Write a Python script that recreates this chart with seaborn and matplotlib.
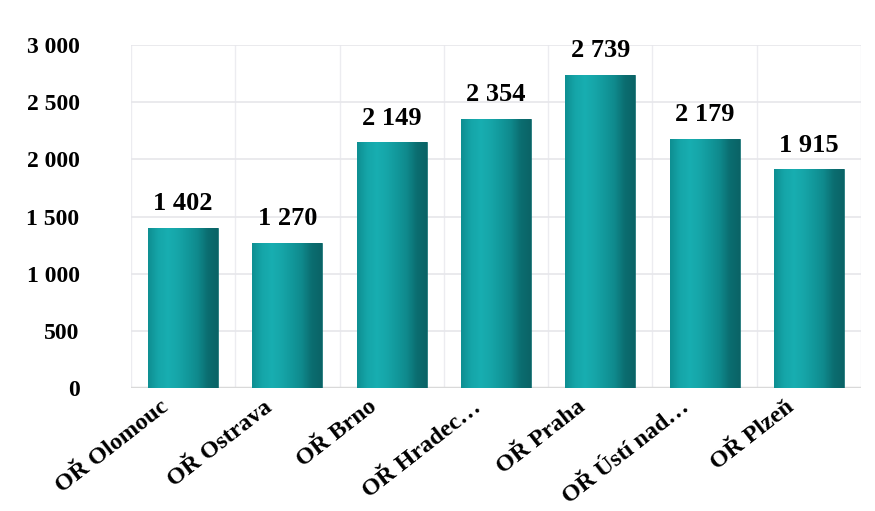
import matplotlib
matplotlib.use("Agg")
import matplotlib.pyplot as plt
import matplotlib.transforms as mtransforms
from matplotlib.colors import LinearSegmentedColormap
import seaborn as sns
import pandas as pd
import numpy as np

categories = ["OŘ Olomouc", "OŘ Ostrava", "OŘ Brno", "OŘ Hradec…", "OŘ Praha", "OŘ Ústí nad…", "OŘ Plzeň"]
values = [1402, 1270, 2149, 2354, 2739, 2179, 1915]
y_ticks = [0, 500, 1000, 1500, 2000, 2500, 3000]

def fmt(v):
    return f"{v:,}".replace(",", " ")

sns.set_theme(style="white")
plt.rcParams["font.family"] = ["Liberation Serif", "DejaVu Serif"]

df = pd.DataFrame({"region": categories, "count": values})

fig = plt.figure(figsize=(8.75, 5.11), dpi=100)
ax = fig.add_axes([131/875, 1 - 388/511, (861 - 131)/875, (388 - 45)/511])

sns.barplot(data=df, x="region", y="count", color="#129A9C", width=0.67,
            edgecolor="#0B6B6E", linewidth=0.6, saturation=1, ax=ax, zorder=3)

# cylinder-like shading on each bar
cmap = LinearSegmentedColormap.from_list(
    "teal", ["#0E8E91", "#15A5A8", "#18AEB1", "#16A5A8", "#12989B", "#0F898C", "#0B6D70", "#0A6366"])
grad = np.linspace(0, 1, 256).reshape(1, -1)
for p in ax.patches:
    x0, y0 = p.get_x(), p.get_y()
    w, h = p.get_width(), p.get_height()
    im = ax.imshow(grad, cmap=cmap, aspect="auto", extent=(x0, x0 + w, y0, y0 + h),
                   zorder=3.5, interpolation="bicubic")
    im.set_clip_path(p)
    p.set_facecolor("none")
ax.set_ylim(0, 3000)
ax.set_xlim(-0.5, len(categories) - 0.5)

ax.set_yticks(y_ticks)
ax.set_yticklabels([fmt(t) for t in y_ticks], fontsize=17, fontweight="bold", color="black")
ax.set_xticks(np.arange(len(categories)), minor=False)
ax.set_xticks(np.arange(-0.5, len(categories), 0.5), minor=True)
ax.grid(True, which="major", axis="y", color="#E6E6EA", linewidth=1.2, zorder=0)
ax.grid(True, which="minor", axis="x", color="#ECECF0", linewidth=1.0, zorder=0)
ax.tick_params(axis="y", length=0, pad=37)
ax.tick_params(axis="x", which="both", length=0, pad=4)
ax.set_xlabel("")
ax.set_ylabel("")
for s in ax.spines.values():
    s.set_visible(False)
ax.axhline(0, color="#D9D9D9", linewidth=2.5, zorder=2)

offset = mtransforms.ScaledTranslation(-24/100, -3/100, fig.dpi_scale_trans)
ax.set_xticklabels(categories, rotation=38, ha="right", rotation_mode="anchor",
                   fontsize=17.5, fontweight="bold", color="black")
for lab in ax.get_xticklabels():
    lab.set_transform(lab.get_transform() + offset)

for i, v in enumerate(values):
    ax.annotate(fmt(v), (i, v), xytext=(0, 9), textcoords="offset points",
                ha="center", va="bottom", fontsize=19, fontweight="bold",
                color="black", annotation_clip=False, zorder=5)

fig.savefig("out.png", dpi=100)
